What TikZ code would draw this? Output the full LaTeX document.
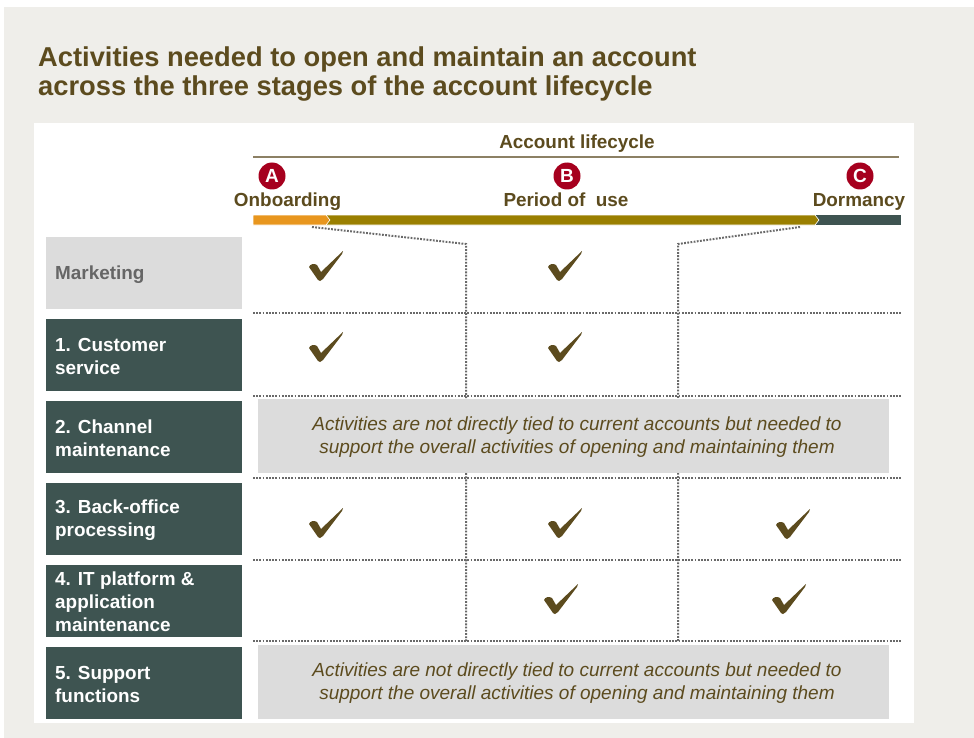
\documentclass[tikz,border=0pt]{standalone}
\usepackage{fontspec}
\setmainfont{Liberation Sans}
\definecolor{bgc}{RGB}{239,238,234}
\definecolor{brn}{RGB}{92,75,30}
\definecolor{teal2}{RGB}{62,84,81}
\definecolor{lgray}{RGB}{220,220,220}
\definecolor{crim}{RGB}{166,0,30}
\definecolor{orng}{RGB}{232,150,30}
\definecolor{olive2}{RGB}{154,127,0}
\definecolor{rule}{RGB}{140,128,100}
\definecolor{dotc}{RGB}{105,105,105}
\definecolor{mkt}{RGB}{102,102,102}
\tikzset{
  lbl/.style={inner sep=0pt, font=\fontsize{18.9}{23}\selectfont\bfseries, text=brn},
  circ/.style={circle, fill=crim, minimum size=27pt, inner sep=0pt, text=white, font=\fontsize{19}{19}\selectfont\bfseries},
  rowbox/.style={minimum width=196pt, minimum height=72pt, inner sep=0pt},
  rowtext/.style={inner sep=0pt, align=left, anchor=west, font=\fontsize{18.9}{23}\selectfont\bfseries},
  graybox/.style={fill=lgray, minimum width=631pt, minimum height=74pt, inner sep=0pt},
  ital/.style={inner sep=0pt, align=center, text=brn, font=\fontsize{19}{23}\selectfont\itshape},
  dotline/.style={draw=dotc, line width=2pt, dash pattern=on 1.8pt off 1.4pt},
  chk/.pic={\fill[brn] (-17,1) .. controls (-16,-2) and (-12,-3) .. (-9,-1) -- (-5,6) -- (17,-15) -- (16,-12) -- (-3,13) -- (-6,15) -- (-8,14) -- cycle;}
}
\begin{document}
\begin{tikzpicture}[x=1pt,y=-1pt]
\useasboundingbox (0,0) rectangle (974,738);
\fill[bgc] (4,7) rectangle (974,738);
\fill[white] (34,123) rectangle (914,723);
% title
\node[anchor=base west, inner sep=0pt, text=brn, font=\fontsize{27.3}{29}\selectfont\bfseries] (t1) at (38,67) {Activities needed to open and maintain an account};
\node[anchor=base west, inner sep=0pt, text=brn, font=\fontsize{27.3}{29}\selectfont\bfseries] (t2) at (38,96) {across the three stages of the account lifecycle};
% lifecycle header
\node[lbl, anchor=base] (alc) at (577,149) {Account lifecycle};
\coordinate (rl) at (253,157);
\coordinate (rr) at (899,157);
\draw[rule, line width=1.4pt] (rl) -- (rr);
\node[circ] (cA) at (272,176) {A};
\node[circ] (cB) at (567,176) {B};
\node[circ] (cC) at (860,176) {C};
\node[lbl, anchor=base] (lA) at (287.5,207) {Onboarding};
\node[lbl, anchor=base] (lB) at (566,207) {Period of\ \ use};
\node[lbl, anchor=base] (lC) at (859,207) {Dormancy};
% bar
\fill[teal2] (815,215) rectangle (901,225);
\filldraw[fill=olive2, draw=white, line width=0.6pt] (326,215) -- (815,215) -- (819,220) -- (815,225) -- (326,225) -- cycle;
\filldraw[fill=orng, draw=white, line width=0.6pt] (253,215) -- (326,215) -- (330,220) -- (326,225) -- (253,225) -- cycle;
% dotted grid
\coordinate (s1) at (312,227);
\coordinate (k1) at (466,244);
\coordinate (e1) at (466,641);
\coordinate (s2) at (800,227);
\coordinate (k2) at (678,244);
\coordinate (e2) at (678,641);
\draw[dotline] (s1) -- (k1) -- (e1);
\draw[dotline] (s2) -- (k2) -- (e2);
\foreach \yy/\nm in {313/a,396/b,478/c,560/d,641/e}{
  \coordinate (hl\nm) at (253,\yy);
  \coordinate (hr\nm) at (902,\yy);
  \draw[dotline] (hl\nm) -- (hr\nm);
}
% row labels
\node[rowbox, fill=lgray] (r0) at (144,273) {};
\node[rowtext, text=mkt] (r0t) at (55,275) {Marketing};
\node[rowbox, fill=teal2] (r1) at (144,355) {};
\node[rowtext, text=white] (r1t) at (55,356) {1. Customer\\service};
\node[rowbox, fill=teal2] (r2) at (144,437) {};
\node[rowtext, text=white] (r2t) at (55,438) {2. Channel\\maintenance};
\node[rowbox, fill=teal2] (r3) at (144,519) {};
\node[rowtext, text=white] (r3t) at (55,520) {3. Back-office\\processing};
\node[rowbox, fill=teal2] (r4) at (144,601) {};
\node[rowtext, text=white] (r4t) at (55,602) {4. IT platform \&\\application\\maintenance};
\node[rowbox, fill=teal2] (r5) at (144,683) {};
\node[rowtext, text=white] (r5t) at (55,684) {5. Support\\functions};
% gray boxes
\node[graybox] (g2) at (573.5,436) {};
\node[ital] (g2t) at (577,437) {Activities are not directly tied to current accounts but needed to\\support the overall activities of opening and maintaining them};
\node[graybox] (g5) at (573.5,682) {};
\node[ital] (g5t) at (577,683) {Activities are not directly tied to current accounts but needed to\\support the overall activities of opening and maintaining them};
% check marks
\foreach \cx/\cy in {326/266,326/347,326/523,565/266,565/347,565/523,561/599,793/524,789/599}{
  \pic at (\cx,\cy) {chk};
}
\end{tikzpicture}
\end{document}
